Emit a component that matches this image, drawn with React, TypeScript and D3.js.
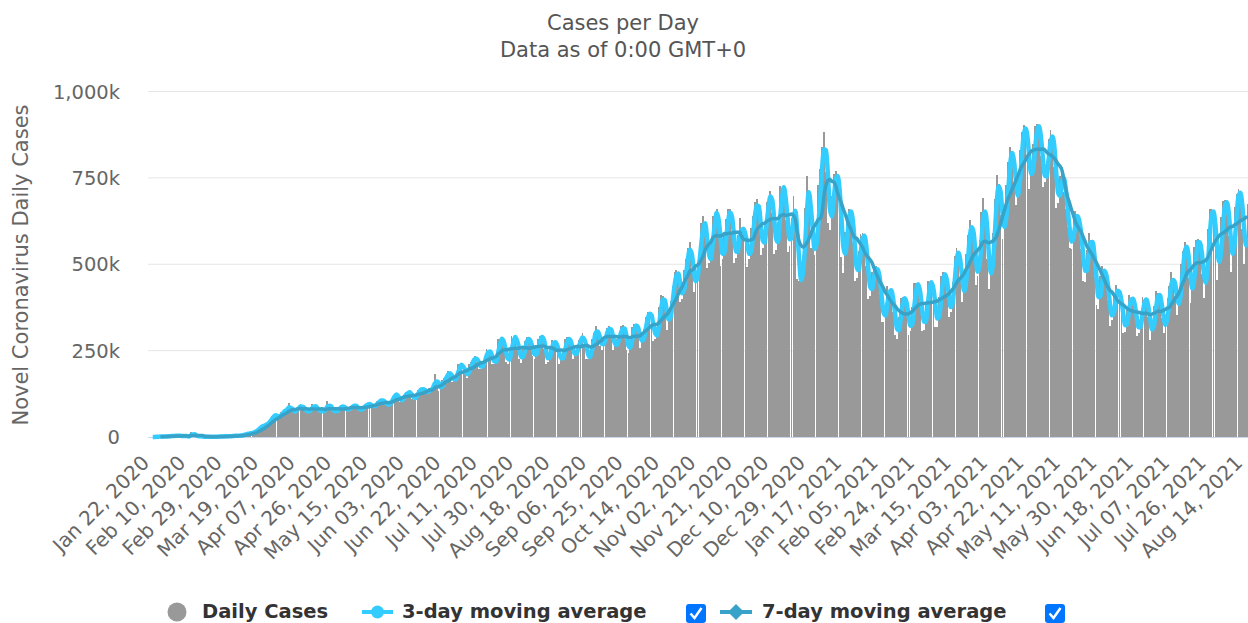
import React from 'react';
import * as d3 from 'd3';

// Daily new cases, in thousands (Jan 22 2020 .. Aug 17 2021)
const jan2020 = [0.1, 0.1, 0.3, 0.5, 0.7, 0.8, 2.6, 0.6, 2.1, 1.7];
const feb2020 = [2.1, 2.6, 3.0, 3.9, 3.7, 3.2, 3.4, 2.7, 3.0, 2.6, 2.0, 0.4, 15.1, 6.5, 2.1, 2.1, 2.0, 1.9, 0.5, 0.6, 1.0, 1.0, 0.5, 0.8, 0.9, 1.0, 1.3, 1.4, 1.9];
const mar2020 = [1.8, 1.9, 2.3, 2.3, 2.7, 3.9, 3.9, 4.0, 3.7, 4.6, 7.0, 7.7, 10.5, 10.7, 11.0, 13.7, 15.3, 19.0, 27.0, 31.0, 32.0, 33.0, 40.0, 41.0, 49.0, 62.0, 63.0, 63.0, 57.0, 60.0, 72.0];
const apr2020 = [76, 80, 81, 98, 74, 71, 76, 84, 86, 95, 82, 77, 72, 72, 80, 96, 88, 83, 76, 73, 75, 75, 84, 103, 85, 79, 71, 75, 77, 84];
const may2020 = [94, 87, 80, 79, 79, 88, 91, 93, 87, 77, 76, 85, 89, 95, 97, 95, 85, 90, 93, 103, 107, 106, 103, 97, 89, 93, 106, 119, 124, 126, 103];
const jun2020 = [102, 115, 121, 130, 129, 130, 110, 107, 121, 135, 137, 141, 137, 130, 124, 142, 142, 140, 181, 160, 133, 139, 164, 171, 178, 192, 183, 160, 162, 177];
const jul2020 = [210, 209, 208, 191, 181, 172, 211, 216, 227, 234, 218, 198, 197, 218, 232, 254, 252, 237, 210, 212, 231, 285, 283, 285, 258, 216, 210, 246, 291, 285, 293];
const aug2020 = [255, 225, 214, 254, 279, 288, 284, 260, 233, 225, 259, 283, 293, 292, 256, 210, 218, 259, 280, 276, 266, 248, 211, 223, 251, 283, 289, 279, 263, 225, 234];
const sep2020 = [262, 281, 282, 301, 266, 227, 226, 241, 285, 302, 320, 294, 262, 253, 290, 301, 316, 321, 296, 253, 262, 283, 295, 321, 324, 298, 252, 242, 281, 317];
const oct2020 = [327, 325, 300, 258, 278, 312, 347, 363, 361, 335, 279, 285, 318, 377, 410, 407, 373, 311, 337, 393, 437, 479, 483, 458, 391, 400, 484, 514, 548, 564, 479];
const nov2020 = [420, 454, 505, 556, 619, 641, 595, 490, 503, 550, 640, 648, 659, 582, 495, 514, 585, 630, 661, 659, 590, 505, 517, 586, 634, 573, 601, 584, 491, 514];
const dec2020 = [604, 641, 680, 690, 631, 528, 548, 612, 681, 696, 712, 647, 531, 541, 621, 726, 717, 725, 629, 536, 552, 634, 697, 634, 456, 452, 454, 521, 662, 754, 710];
const jan2021 = [546, 560, 527, 580, 730, 777, 840, 882, 768, 620, 598, 697, 761, 769, 736, 659, 520, 476, 594, 643, 660, 654, 563, 451, 460, 537, 588, 590, 570, 496, 399];
const feb2021 = [409, 477, 486, 495, 474, 413, 333, 334, 388, 437, 423, 414, 363, 295, 283, 348, 403, 405, 396, 365, 294, 307, 377, 445, 446, 435, 387, 307];
const mar2021 = [310, 381, 451, 447, 446, 393, 318, 318, 406, 466, 477, 470, 418, 348, 363, 449, 523, 546, 530, 458, 390, 420, 530, 584, 627, 611, 530, 439, 466, 570, 650];
const apr2021 = [693, 616, 515, 428, 479, 590, 689, 758, 731, 642, 573, 609, 729, 796, 840, 829, 727, 671, 700, 831, 883, 902, 894, 811, 717, 755, 847, 899, 906, 893];
const may2021 = [813, 724, 738, 799, 863, 889, 857, 781, 664, 676, 755, 781, 710, 661, 607, 547, 543, 641, 653, 626, 601, 544, 451, 450, 541, 590, 560, 543, 464, 381, 371];
const jun2021 = [466, 496, 482, 439, 396, 322, 339, 409, 439, 421, 401, 366, 301, 303, 377, 412, 399, 389, 359, 291, 302, 361, 405, 395, 394, 346, 280, 308, 380, 422];
const jul2021 = [416, 395, 345, 302, 327, 403, 438, 478, 448, 409, 352, 394, 500, 539, 563, 550, 460, 387, 442, 551, 570, 572, 547, 471, 402, 469, 602, 660, 661, 636, 544];
const aug2021 = [455, 522, 636, 682, 686, 671, 581, 479, 531, 667, 703, 718, 700, 602, 500, 562, 673];

const dailyCases: number[] = [
  ...jan2020, ...feb2020, ...mar2020, ...apr2020, ...may2020, ...jun2020,
  ...jul2020, ...aug2020, ...sep2020, ...oct2020, ...nov2020, ...dec2020,
  ...jan2021, ...feb2021, ...mar2021, ...apr2021, ...may2021, ...jun2021,
  ...jul2021, ...aug2021,
];

const tickLabels = [
  'Jan 22, 2020', 'Feb 10, 2020', 'Feb 29, 2020', 'Mar 19, 2020', 'Apr 07, 2020', 'Apr 26, 2020',
  'May 15, 2020', 'Jun 03, 2020', 'Jun 22, 2020', 'Jul 11, 2020', 'Jul 30, 2020', 'Aug 18, 2020',
  'Sep 06, 2020', 'Sep 25, 2020', 'Oct 14, 2020', 'Nov 02, 2020', 'Nov 21, 2020', 'Dec 10, 2020',
  'Dec 29, 2020', 'Jan 17, 2021', 'Feb 05, 2021', 'Feb 24, 2021', 'Mar 15, 2021', 'Apr 03, 2021',
  'Apr 22, 2021', 'May 11, 2021', 'May 30, 2021', 'Jun 18, 2021', 'Jul 07, 2021', 'Jul 26, 2021',
  'Aug 14, 2021',
];
const tickEvery = 19;
const yTicks = [0, 250, 500, 750, 1000];
const yTickLabels = ['0', '250k', '500k', '750k', '1,000k'];

const FONT = '"DejaVu Sans", Verdana, sans-serif';
const W = 1248;
const H = 623;
const C3 = '#33ccff';
const C7 = '#38a3c8';
const BAR = '#999999';

function trailing(values: number[], n: number): (number | null)[] {
  return values.map((_, i) => (i < n - 1 ? null : (d3.mean(values.slice(i - n + 1, i + 1)) as number)));
}

export default function App() {
  const idx = d3.range(dailyCases.length);
  const x = d3.scaleBand<number>().domain(idx).range([148, 148 + dailyCases.length * 1.918]).paddingInner(0.05);
  const y = d3.scaleLinear().domain([0, 1000]).range([437, 91.5]);
  const cx = (i: number) => (x(i) as number) + x.bandwidth() / 2;

  const ma3 = trailing(dailyCases, 3);
  const ma7 = trailing(dailyCases, 7);
  const line = d3
    .line<number | null>()
    .defined((d) => d != null)
    .x((_, i) => cx(i))
    .y((d) => y(d as number))
    .curve(d3.curveMonotoneX);

  return (
    <svg width={W} height={H} style={{ position: 'absolute', left: 0, top: 0, background: '#fff' }} fontFamily={FONT}>
      <rect x={0} y={0} width={W} height={H} fill="#fff" />
      <text x={623} y={30} textAnchor="middle" fontSize={21} fill="#555">Cases per Day</text>
      <text x={623} y={57} textAnchor="middle" fontSize={21} fill="#555">Data as of 0:00 GMT+0</text>

      {yTicks.map((t, i) => (
        <g key={t}>
          {t > 0 && <line x1={148} x2={W} y1={y(t)} y2={y(t)} stroke="#e6e6e6" strokeWidth={1} />}
          <text x={120} y={y(t) + 7} textAnchor="end" fontSize={19.5} fill="#666">{yTickLabels[i]}</text>
        </g>
      ))}
      <text transform="translate(28,265) rotate(-90)" textAnchor="middle" fontSize={21} fill="#666">
        Novel Coronavirus Daily Cases
      </text>

      <g shapeRendering="crispEdges">
        {dailyCases.map((v, i) => (
          <rect key={i} x={x(i)} y={y(v)} width={x.bandwidth()} height={y(0) - y(v)} fill={BAR} />
        ))}
      </g>
      <line x1={148} x2={W} y1={437.5} y2={437.5} stroke="#ccd6eb" strokeWidth={1} />

      <path d={line(ma3) || ''} fill="none" stroke={C3} strokeWidth={4.5} strokeLinejoin="round" />
      <path d={line(ma7) || ''} fill="none" stroke={C7} strokeWidth={3.5} strokeLinejoin="round" />

      {tickLabels.map((lab, k) => {
        const px = cx(k * tickEvery) + 1.5;
        return (
          <text key={lab} transform={`translate(${px},464) rotate(-45)`} textAnchor="end" fontSize={20} fill="#666">
            {lab}
          </text>
        );
      })}

      {/* Legend */}
      <g>
        <circle cx={177} cy={612} r={9.5} fill={BAR} />
        <text x={202} y={618} fontSize={19.5} fontWeight="bold" fill="#333">Daily Cases</text>

        <line x1={362} x2={393} y1={612} y2={612} stroke={C3} strokeWidth={4} />
        <circle cx={377.5} cy={612} r={6.5} fill={C3} />
        <text x={402} y={618} fontSize={19.5} fontWeight="bold" fill="#333">3-day moving average</text>
        <rect x={686} y={604} width={20} height={19} rx={3} fill="#0075ff" />
        <path d="M690.5,613.5 L694.5,618 L701.5,608" fill="none" stroke="#fff" strokeWidth={2.5} />

        <line x1={720} x2={752} y1={612} y2={612} stroke={C7} strokeWidth={4} />
        <path d="M736,604 L744,612 L736,620 L728,612 Z" fill={C7} />
        <text x={762} y={618} fontSize={19.5} fontWeight="bold" fill="#333">7-day moving average</text>
        <rect x={1045} y={604} width={20} height={19} rx={3} fill="#0075ff" />
        <path d="M1049.5,613.5 L1053.5,618 L1060.5,608" fill="none" stroke="#fff" strokeWidth={2.5} />
      </g>
    </svg>
  );
}
